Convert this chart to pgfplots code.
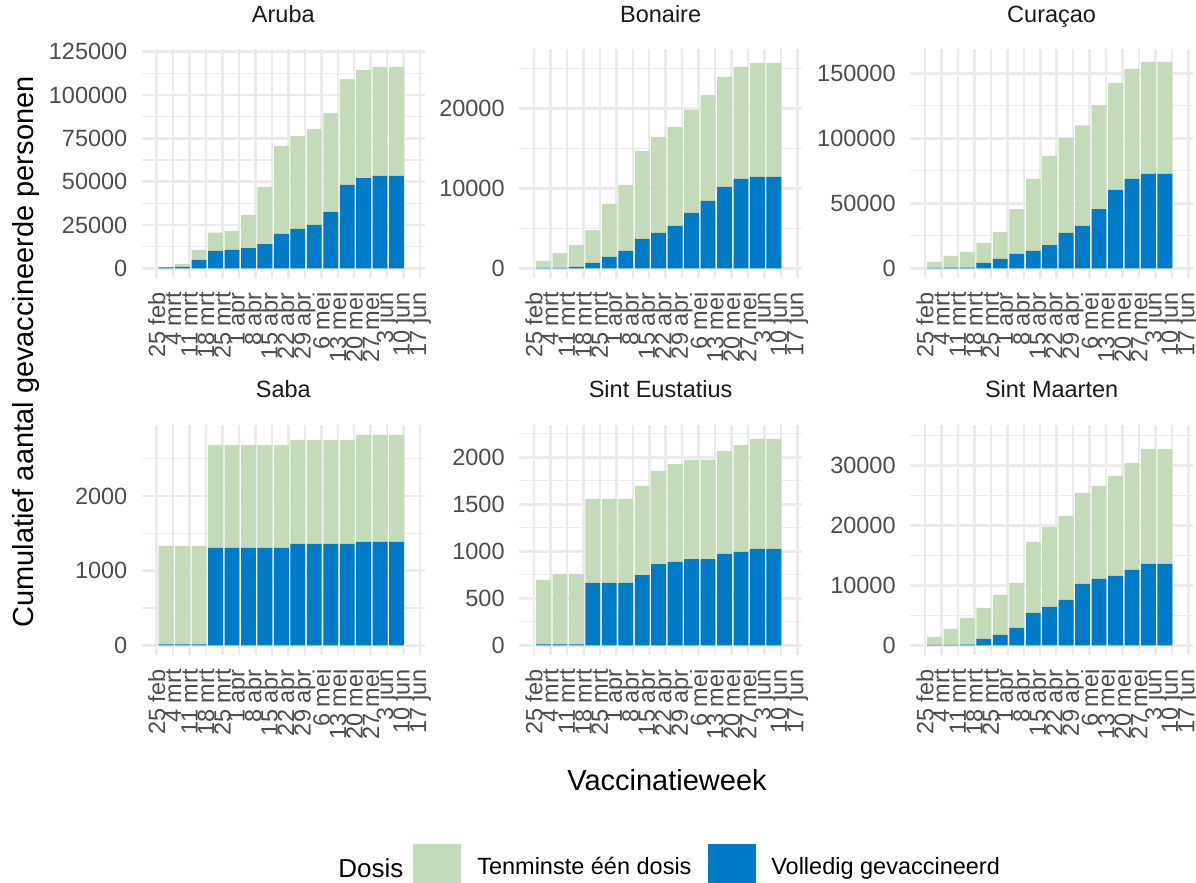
\documentclass[border=0pt]{standalone}
\usepackage{fontspec}
\setmainfont{Liberation Sans}
\usepackage{pgfplots}
\usepackage{pgfplotstable}
\pgfplotsset{compat=1.18}

\definecolor{groen}{HTML}{C4DBB9}
\definecolor{blauw}{HTML}{007BC7}
\definecolor{rooster}{HTML}{EBEBEB}
\definecolor{tickgrijs}{HTML}{4D4D4D}
\definecolor{stripgrijs}{HTML}{1A1A1A}

% x = dagen na 25 feb; een = tenminste een dosis, vol = volledig gevaccineerd
\pgfplotstableread{
x een vol
4 500 500
11 2500 800
18 10600 4800
25 20600 10000
32 21500 10600
39 30800 11700
46 46900 14000
53 70600 19800
60 76300 22700
67 80400 25000
74 89600 32500
81 109200 48100
88 114400 52100
95 116200 53300
102 116200 53300
}\aruba

\pgfplotstableread{
x een vol
4 920 40
11 1920 60
18 2920 170
25 4800 670
32 8040 1420
39 10420 2170
46 14670 3670
53 16420 4420
60 17670 5290
67 19790 6920
74 21670 8420
81 23920 10170
88 25170 11170
95 25670 11420
102 25670 11420
}\bonaire

\pgfplotstableread{
x een vol
4 4900 400
11 9500 500
18 12600 600
25 19500 4100
32 27900 7200
39 45600 11000
46 68700 13300
53 86400 17900
60 100300 27200
67 110000 32600
74 125600 45600
81 142600 60300
88 153300 68700
95 158700 72600
102 158700 72600
}\curacao

\pgfplotstableread{
x een vol
4 1330 12
11 1330 12
18 1330 12
25 2683 1304
32 2683 1304
39 2683 1304
46 2683 1304
53 2683 1304
60 2750 1357
67 2750 1357
74 2750 1357
81 2750 1357
88 2817 1384
95 2817 1384
102 2817 1384
}\saba

\pgfplotstableread{
x een vol
4 695 9
11 759 9
18 759 9
25 1557 663
32 1557 663
39 1557 663
46 1695 748
53 1855 865
60 1929 887
67 1972 918
74 1972 918
81 2067 972
88 2131 993
95 2195 1025
102 2195 1025
}\eustatius

\pgfplotstableread{
x een vol
4 1390 60
11 2720 60
18 4560 100
25 6220 1060
32 8390 1720
39 10390 2890
46 17220 5390
53 19720 6390
60 21560 7560
67 25390 10220
74 26560 11060
81 28220 11560
88 30390 12560
95 32720 13560
102 32720 13560
}\maarten

\pgfplotsset{
  paneel/.style={
    scale only axis, width=141.65pt, anchor=south west,
    xmin=-6.4, xmax=114.1,
    ybar, bar width=6.3,
    scaled y ticks=false,
    axis line style={draw=none},
    major tick length=0pt, minor tick length=0pt,
    tick style={draw=none},
    xtick={0,7,...,112},
    xticklabels={25 feb,4 mrt,11 mrt,18 mrt,25 mrt,1 apr,8 apr,15 apr,22 apr,29 apr,6 mei,13 mei,20 mei,27 mei,3 jun,10 jun,17 jun},
    xticklabel style={yshift=-7pt, rotate=90, anchor=east, inner sep=0pt},
    yticklabel style={xshift=-7pt, anchor=east, inner sep=0pt},
    tick label style={font=\fontsize{11.75}{13}\selectfont, text=tickgrijs},
    xmajorgrids, ymajorgrids, yminorgrids,
    major grid style={line width=1.25pt, color=rooster},
    minor grid style={line width=0.65pt, color=rooster},
    title style={at={(0.5,1)}, anchor=base, yshift=7.5pt, inner sep=0pt,
      font=\fontsize{11.75}{13}\selectfont, text=stripgrijs},
  },
  groenbar/.style={fill=groen, draw=none, bar shift=0pt, forget plot},
  blauwbar/.style={fill=blauw, draw=none, bar shift=0pt, forget plot},
}

\begin{document}
\begin{tikzpicture}
\useasboundingbox (0,0) rectangle (598pt,441.5pt);

\begin{axis}[paneel, at={(70.85pt,302.5pt)}, height=114.25pt, title={Aruba},
  ymin=-5600, ymax=126300,
  ytick={0,25000,50000,75000,100000,125000},
  yticklabels={0,25000,50000,75000,100000,125000},
  minor ytick={12500,37500,62500,87500,112500}]
\addplot[groenbar] table[x=x, y=een] {\aruba};
\addplot[blauwbar] table[x=x, y=vol] {\aruba};
\end{axis}

\begin{axis}[paneel, at={(259.5pt,302.5pt)}, height=114.25pt, title={Bonaire},
  ymin=-1212, ymax=27350,
  ytick={0,10000,20000}, yticklabels={0,10000,20000},
  minor ytick={5000,15000,25000}]
\addplot[groenbar] table[x=x, y=een] {\bonaire};
\addplot[blauwbar] table[x=x, y=vol] {\bonaire};
\end{axis}

\begin{axis}[paneel, at={(455pt,302.5pt)}, height=114.25pt, title={Curaçao},
  ymin=-7460, ymax=168300,
  ytick={0,50000,100000,150000}, yticklabels={0,50000,100000,150000},
  minor ytick={25000,75000,125000}]
\addplot[groenbar] table[x=x, y=een] {\curacao};
\addplot[blauwbar] table[x=x, y=vol] {\curacao};
\end{axis}

\begin{axis}[paneel, at={(70.85pt,114pt)}, height=115pt, title={Saba},
  ymin=-130, ymax=2950,
  ytick={0,1000,2000}, yticklabels={0,1000,2000},
  minor ytick={500,1500,2500}]
\addplot[groenbar] table[x=x, y=een] {\saba};
\addplot[blauwbar] table[x=x, y=vol] {\saba};
\end{axis}

\begin{axis}[paneel, at={(259.5pt,114pt)}, height=115pt, title={Sint Eustatius},
  ymin=-103, ymax=2344,
  ytick={0,500,1000,1500,2000}, yticklabels={0,500,1000,1500,2000},
  minor ytick={250,750,1250,1750,2250}]
\addplot[groenbar] table[x=x, y=een] {\eustatius};
\addplot[blauwbar] table[x=x, y=vol] {\eustatius};
\end{axis}

\begin{axis}[paneel, at={(455pt,114pt)}, height=115pt, title={Sint Maarten},
  ymin=-1617, ymax=36717,
  ytick={0,10000,20000,30000}, yticklabels={0,10000,20000,30000},
  minor ytick={5000,15000,25000,35000},
  legend columns=-1,
  legend style={draw=none, fill=none, inner sep=0pt, at={(-1.754,-0.925)}, anchor=west,
    font=\fontsize{11.75}{13}\selectfont, column sep=8pt,
    nodes={inner sep=0pt}}]
\addplot[groenbar] table[x=x, y=een] {\maarten};
\addplot[blauwbar] table[x=x, y=vol] {\maarten};
\addlegendimage{legend image code/.code={\fill[groen] (0pt,-11.5pt) rectangle (23.5pt,11.5pt);}}
\addlegendentry{Tenminste één dosis}
\addlegendimage{legend image code/.code={\fill[blauw] (0pt,-11.5pt) rectangle (23.5pt,11.5pt);}}
\addlegendentry{Volledig gevaccineerd}
\end{axis}

\node[rotate=90, inner sep=0pt, font=\fontsize{14.5}{17}\selectfont] at (13pt,265.5pt)
  {Cumulatief aantal gevaccineerde personen};
\node[inner sep=0pt, font=\fontsize{14.5}{17}\selectfont] at (333.5pt,51.5pt) {Vaccinatieweek};
\node[anchor=west, inner sep=0pt, font=\fontsize{13}{15}\selectfont] at (169pt,7.5pt) {Dosis};
\end{tikzpicture}
\end{document}
